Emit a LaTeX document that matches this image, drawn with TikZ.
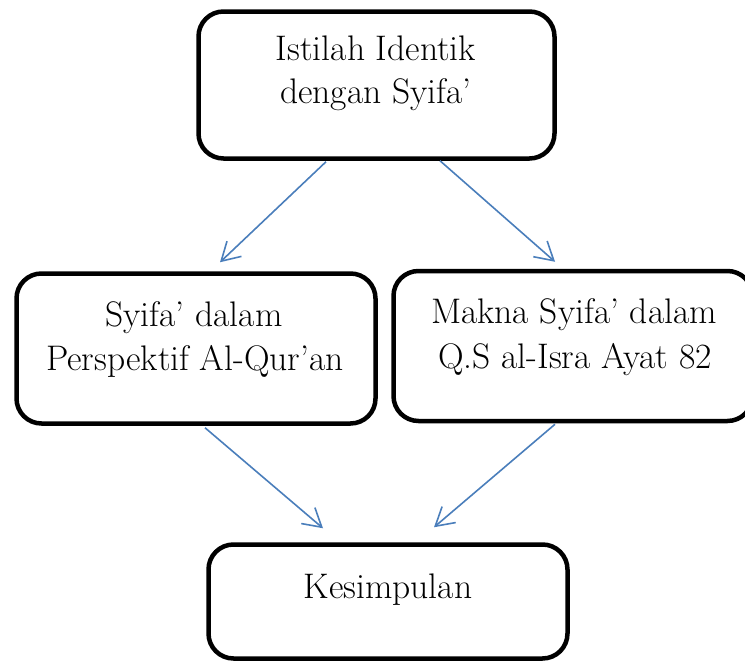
\documentclass[tikz,border=0pt]{standalone}
\usetikzlibrary{arrows.meta,calc}
\definecolor{arrowblue}{HTML}{4A7EBB}
\tikzset{
  box/.style={draw=black, line width=4.5pt, rounded corners=25pt, fill=white,
    rectangle, inner sep=0pt, minimum width=359pt, minimum height=150pt},
  txt/.style={anchor=base, inner sep=0pt, scale=1.11, font=\fontsize{32}{40}\selectfont},
  conn/.style={draw=arrowblue, line width=1.6pt,
    -{Straight Barb[length=18pt,width=21pt]}}
}
\begin{document}
\begin{tikzpicture}[x=1pt,y=-1pt]
\useasboundingbox (0,0) rectangle (745,662);
% boxes
\node[box, minimum width=356pt, minimum height=147pt] (top) at (376.5,85) {};
\node[box] (left) at (196,348.5) {};
\node[box] (right) at (573,346) {};
\node[box, minimum height=114pt] (bot) at (388,601.5) {};
% texts
\node[txt] (t1) at (376,60) {Istilah Identik};
\node[txt] (t2) at (376,103) {dengan Syifa’};
\node[txt] (l1) at (194,326) {Syifa’ dalam};
\node[txt] (l2) at (195,370) {Perspektif Al-Qur’an};
\node[txt] (r1) at (574,323) {Makna Syifa’ dalam};
\node[txt] (r2) at (575,368) {Q.S al-Isra Ayat 82};
\node[txt] (b1) at (388,598) {Kesimpulan};
% connectors
\draw[conn] ($(top.south)+(-50.5,1)$) -- ($(left.north)+(24,-9)$);
\draw[conn] ($(top.south)+(63.5,0)$) -- ($(right.north)+(-18,-7)$);
\draw[conn] ($(left.south)+(9,2)$) -- ($(bot.north)+(-65,-14)$);
\draw[conn] ($(right.south)+(-18,1)$) -- ($(bot.north)+(46,-15)$);
\end{tikzpicture}
\end{document}
